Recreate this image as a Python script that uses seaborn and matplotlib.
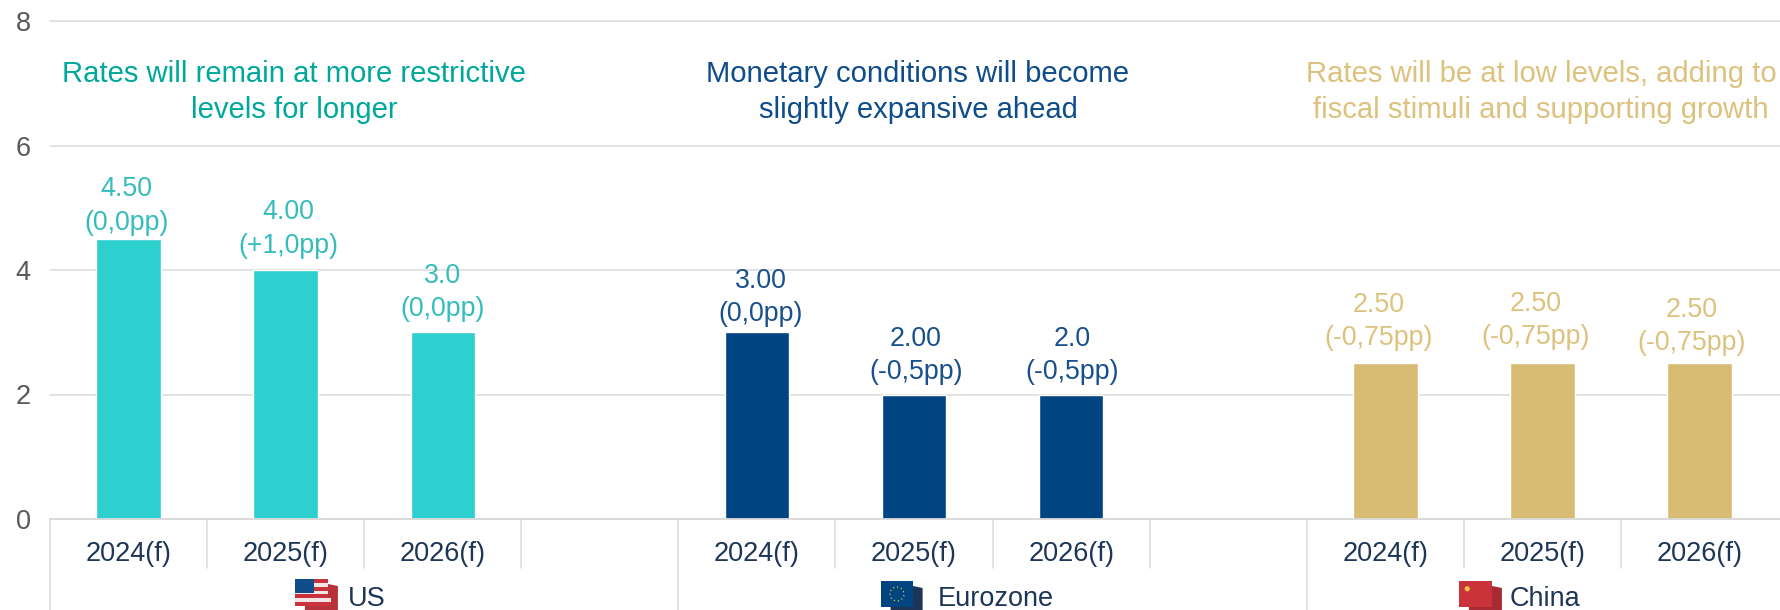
import matplotlib
matplotlib.use("Agg")
import matplotlib.pyplot as plt
import matplotlib.transforms as mtransforms
from matplotlib.patches import Rectangle, Polygon
import pandas as pd
import seaborn as sns

# Policy rate forecasts by region
regions = ["US", "Eurozone", "China"]
years = ["2024(f)", "2025(f)", "2026(f)"]
us_rates = [4.50, 4.00, 3.0]
eurozone_rates = [3.00, 2.00, 2.0]
china_rates = [2.50, 2.50, 2.50]
us_labels = ["4.50\n(0,0pp)", "4.00\n(+1,0pp)", "3.0\n(0,0pp)"]
eurozone_labels = ["3.00\n(0,0pp)", "2.00\n(-0,5pp)", "2.0\n(-0,5pp)"]
china_labels = ["2.50\n(-0,75pp)", "2.50\n(-0,75pp)", "2.50\n(-0,75pp)"]
us_note = "Rates will remain at more restrictive\nlevels for longer"
eurozone_note = "Monetary conditions will become\nslightly expansive ahead"
china_note = "Rates will be at low levels, adding to\nfiscal stimuli and supporting growth"

W, H = 1781, 610
AX_L, AX_R, AX_T, AX_B = 50, 1781, 21, 519
SLOT_PX = 157.1
BAR_COLORS = {"US": "#2DCFCF", "Eurozone": "#004481", "China": "#D9BC73"}
LABEL_COLORS = {"US": "#35BDBD", "Eurozone": "#17508D", "China": "#DDC27E"}
NOTE_COLORS = {"US": "#00A89C", "Eurozone": "#0F4C8A", "China": "#DDC27E"}
GRID = "#DADADA"
INK = "#1D3557"

sns.set_theme(style="white")
plt.rcParams["font.family"] = ["Liberation Sans", "DejaVu Sans"]

rows = []
order = []
for region, rates in zip(regions, [us_rates, eurozone_rates, china_rates]):
    for year, rate in zip(years, rates):
        rows.append({"slot": f"{region} {year}", "region": region, "rate": rate})
        order.append(f"{region} {year}")
    if region != "China":
        order.append(f"{region} gap")
df = pd.DataFrame(rows)

fig = plt.figure(figsize=(W / 100, H / 100), dpi=100, facecolor="white")
ax = fig.add_axes([AX_L / W, 1 - AX_B / H, (AX_R - AX_L) / W, (AX_B - AX_T) / H])
ax.set_axisbelow(True)
sns.barplot(data=df, x="slot", y="rate", hue="region", order=order, hue_order=regions,
            palette=BAR_COLORS, dodge=False, width=0.41, legend=False, saturation=1, ax=ax)

ax.set_xlim(-0.5, -0.5 + (AX_R - AX_L) / SLOT_PX)
ax.set_ylim(0, 8)
ax.set_yticks([0, 2, 4, 6, 8])
ax.yaxis.grid(True, color=GRID, linewidth=1.1)
for line in ax.get_ygridlines():
    line.set_clip_on(False)
ax.xaxis.grid(False)
ax.set_xlabel("")
ax.set_ylabel("")
for side in ["top", "right", "left"]:
    ax.spines[side].set_visible(False)
ax.spines["bottom"].set_color(GRID)
ax.spines["bottom"].set_linewidth(1.3)
ax.tick_params(axis="y", length=0, pad=14, labelsize=19.5, labelcolor="#595959")
ax.tick_params(axis="x", length=0, pad=16, labelsize=19.5, labelcolor=INK)
ax.set_xticks(range(len(order)))
ax.set_xticklabels([s.split(" ")[1] if "gap" not in s else "" for s in order])

# Pixel-based transform (origin at top left) for annotations and flags
px = mtransforms.Affine2D().scale(1 / W, -1 / H).translate(0, 1) + fig.transFigure

# Two-tier category separators below the axis
for i in range(len(order)):
    x = AX_L + i * SLOT_PX
    long_line = i in (0, 4, 8)
    ax.add_line(plt.Line2D([x, x], [AX_B, H if long_line else 568], transform=px,
                           color=GRID, lw=1.1, clip_on=False))

# Value labels sit above each bar, with a small per-label nudge (pixels)
label_dx = [-2, 3, 0, 4, 2, 1, -7, -7, -8]
label_dy = [33, 41, 40, 35, 39, 39, 42, 43, 37]
all_labels = us_labels + eurozone_labels + china_labels
for k, row in df.iterrows():
    ax.annotate(all_labels[k], (order.index(row["slot"]), row["rate"]),
                xytext=(label_dx[k], label_dy[k]), textcoords="offset pixels",
                ha="center", va="center", fontsize=19.3, linespacing=1.37,
                color=LABEL_COLORS[row["region"]], annotation_clip=False)

# Regional commentary
for region, note, cx in zip(regions, [us_note, eurozone_note, china_note], [294, 918, 1541]):
    ax.text(cx, 92, note, transform=px, ha="center", va="center", fontsize=21.1,
            linespacing=1.4, color=NOTE_COLORS[region])


def flag(x0, y0, w, h, back, draw_front):
    """Waving-flag icon: a darker rear panel and a front panel."""
    dx = w * 0.3
    fig.add_artist(Polygon([(x0 + w, y0 + 5), (x0 + w + dx, y0 + 7), (x0 + w + dx, H),
                            (x0 + dx, H), (x0 + dx, y0 + h)],
                           transform=px, facecolor=back, edgecolor="none"))
    draw_front(x0, y0, w, h)


def rect(x, y, w, h, color):
    fig.add_artist(Rectangle((x, y), w, h, transform=px, facecolor=color, edgecolor="none"))


def us_front(x, y, w, h):
    n = 7
    for s in range(n):
        rect(x, y + s * h / n, w * (1 if s < 5 else 1.1), h / n, "#C8323C" if s % 2 == 0 else "#F3E4E4")
    rect(x, y, w * 0.58, h * 0.5, "#0F4C8A")


def eu_front(x, y, w, h):
    rect(x, y, w, h, "#004481")
    fig.add_artist(plt.Circle((x + w * 0.5, y + h * 0.5), 7, transform=px, fill=False,
                              edgecolor="#E8C33A", lw=0.9, linestyle=(0, (1, 2.2))))


def cn_front(x, y, w, h):
    rect(x, y, w, h, "#CB333B")
    fig.add_artist(plt.Circle((x + w * 0.25, y + h * 0.3), 2.6, transform=px, facecolor="#F2C53D",
                              edgecolor="none"))


flag(295, 579, 33, 27, "#B8323C", us_front)
flag(881, 581, 32, 26, "#1D3557", eu_front)
flag(1459, 581, 33, 26, "#A82A32", cn_front)

for name, left in zip(regions, [348, 938, 1510]):
    ax.text(left, 599, name, transform=px, ha="left", va="center", fontsize=19.5,
            color=INK, clip_on=False)

fig.savefig("out.png", dpi=100, facecolor="white")
